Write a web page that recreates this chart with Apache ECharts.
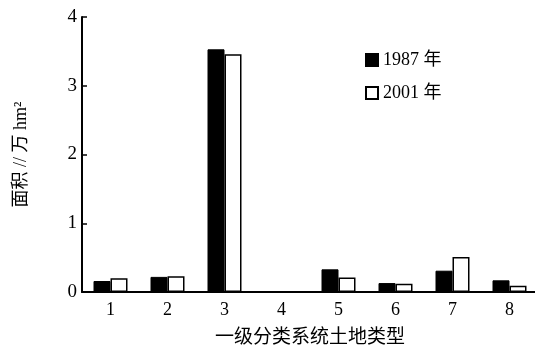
<!DOCTYPE html>
<html><head><meta charset="utf-8">
<script src="https://cdn.jsdelivr.net/npm/echarts@6/dist/echarts.min.js"></script>
<style>html,body{margin:0;padding:0;background:#fff}#c{width:535px;height:347px}</style>
</head><body><div id="c"></div>
<script>
const categories = ['1','2','3','4','5','6','7','8'];
const values1987 = [0.16, 0.22, 3.53, 0, 0.33, 0.13, 0.31, 0.17];
const values2001 = [0.20, 0.23, 3.46, 0, 0.21, 0.12, 0.51, 0.09];
const yTicks = [0, 1, 2, 3, 4];
const seriesNames = ['1987 年', '2001 年'];

const serif = '"Liberation Serif", "Noto Sans CJK SC", serif';
const chart = echarts.init(document.getElementById('c'));
chart.setOption({
  animation: false,
  backgroundColor: '#fff',
  grid: { left: 82, top: 17, width: 456, height: 275, containLabel: false, outerBoundsMode: 'none' },
  legend: {
    orient: 'vertical', left: 360, top: 46, itemGap: 15,
    itemWidth: 12, itemHeight: 12, icon: 'rect',
    textStyle: { fontFamily: serif, fontSize: 18, color: '#000' },
    data: seriesNames
  },
  xAxis: {
    type: 'category', data: categories,
    name: '一级分类系统土地类型', nameLocation: 'middle', nameGap: 37,
    nameTextStyle: { fontFamily: serif, fontSize: 19, color: '#000' },
    axisLine: { lineStyle: { color: '#000', width: 2 } },
    axisTick: { inside: true, length: 4, lineStyle: { color: '#000', width: 1.5 } },
    axisLabel: { fontFamily: serif, fontSize: 18, color: '#000', margin: 9 }
  },
  yAxis: {
    type: 'value', min: 0, max: 4, interval: 1,
    name: '面积 // 万 hm²', nameLocation: 'middle', nameGap: 52,
    nameTextStyle: { fontFamily: serif, fontSize: 18, color: '#000' },
    axisLine: { show: true, lineStyle: { color: '#000', width: 2 } },
    axisTick: { show: true, inside: true, length: 5, lineStyle: { color: '#000', width: 1.5 } },
    axisLabel: { fontFamily: serif, fontSize: 19, color: '#000', margin: 5,
      formatter: v => yTicks.includes(v) ? String(v) : '' },
    splitLine: { show: false }
  },
  series: [
    { name: seriesNames[0], type: 'bar', data: values1987, barWidth: 17, barGap: '0%',
      itemStyle: { color: '#000', borderColor: '#000', borderWidth: 1 } },
    { name: seriesNames[1], type: 'bar', data: values2001, barWidth: 17,
      itemStyle: { color: '#fff', borderColor: '#000', borderWidth: 1.5 } }
  ]
});
</script></body></html>
